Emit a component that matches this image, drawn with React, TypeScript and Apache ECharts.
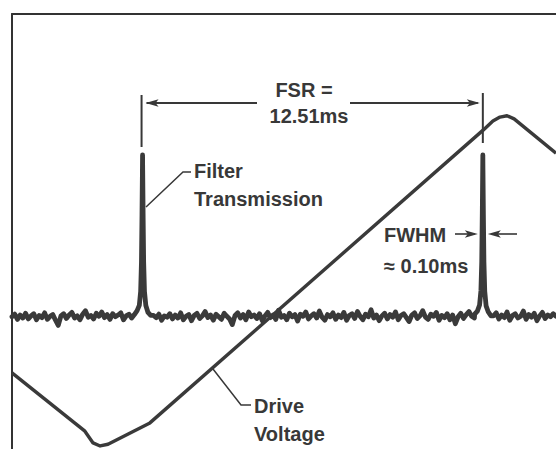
import React, { useEffect, useRef } from "react";
import * as echarts from "echarts";

// Drive voltage (time in ms, level in arbitrary units)
const driveTime = [0.0, 2.68, 2.98, 3.24, 3.53, 5.07, 17.32, 17.68, 17.94, 18.2, 18.46, 20.0];
const driveLevel = [1.75, 0.41, 0.14, 0.07, 0.11, 0.6, 7.33, 7.54, 7.63, 7.66, 7.59, 6.8];

// Filter transmission baseline, sampled every 0.1 ms from 0 to 20 ms
const transmissionLevel = [
  3.04, 3.10, 2.98, 3.08, 3.01, 3.12, 2.99, 3.06, 3.11, 2.97,
  3.07, 3.02, 3.13, 2.98, 3.05, 3.09, 2.96, 2.84, 3.06, 3.11,
  3.00, 3.08, 3.14, 3.01, 3.06, 2.97, 3.10, 3.18, 3.03, 3.07,
  2.99, 3.12, 3.05, 3.15, 3.02, 3.09, 2.98, 3.11, 3.04, 3.08,
  3.13, 2.97, 3.06, 3.10, 3.01, 3.14, 3.03, 3.08, 3.10, 3.09,
  3.05, 2.98, 3.07, 3.02, 3.10, 2.96, 3.06, 3.03, 3.11, 2.99,
  3.08, 3.01, 3.13, 2.97, 3.05, 3.09, 2.95, 3.07, 3.12, 3.00,
  3.06, 3.16, 3.02, 3.08, 2.96, 3.10, 3.04, 2.98, 3.12, 3.05,
  2.99, 2.86, 3.07, 3.13, 3.01, 3.09, 2.97, 3.15, 3.04, 3.08,
  3.00, 3.11, 2.95, 3.06, 3.14, 3.02, 3.08, 2.98, 3.19, 3.03,
  3.07, 2.97, 3.12, 3.04, 3.09, 2.94, 3.10, 3.05, 3.15, 2.99,
  3.06, 3.11, 3.01, 3.17, 3.03, 2.96, 3.09, 3.04, 3.13, 2.98,
  3.08, 3.02, 3.14, 2.96, 3.07, 3.11, 3.00, 3.16, 3.05, 2.97,
  3.10, 3.04, 3.20, 3.01, 3.08, 2.95, 3.06, 3.12, 2.99, 3.09,
  3.03, 3.15, 2.97, 3.07, 3.11, 3.02, 2.93, 3.08, 3.13, 3.00,
  3.06, 3.18, 3.03, 2.98, 3.10, 3.05, 3.14, 2.96, 3.07, 3.02,
  3.11, 2.97, 3.08, 2.88, 3.04, 3.12, 3.00, 3.09, 3.16, 3.05,
  3.01, 3.10, 3.04, 3.07, 3.10, 3.09, 2.97, 3.06, 3.13, 2.99,
  3.08, 3.02, 3.15, 2.96, 3.07, 3.11, 3.01, 3.05, 3.17, 2.98,
  3.09, 3.03, 3.12, 2.95, 3.06, 3.14, 3.00, 3.08, 3.04, 3.11,
  3.05,
];

// Transmission peaks (FSR = 12.51 ms apart, FWHM ≈ 0.10 ms)
const peakCenters = [4.8, 17.31];
const peak1Time = [4.5, 4.6, 4.68, 4.73, 4.76, 4.78, 4.795, 4.8, 4.805, 4.82, 4.84, 4.87, 4.92, 5.0, 5.1];
const peak1Level = [3.09, 3.18, 3.3, 3.62, 4.3, 5.4, 6.4, 6.76, 6.4, 5.4, 4.3, 3.62, 3.3, 3.14, 3.07];
const peak2Time = [17.01, 17.11, 17.19, 17.24, 17.27, 17.29, 17.305, 17.31, 17.315, 17.33, 17.35, 17.38, 17.43, 17.51, 17.61];
const peak2Level = [3.1, 3.17, 3.31, 3.64, 4.3, 5.4, 6.4, 6.76, 6.4, 5.4, 4.3, 3.63, 3.29, 3.15, 3.06];

const INK = "#3a3a3a";
const TEXT = "#383838";
const FONT = "Liberation Sans";

export default function App() {
  const ref = useRef<HTMLDivElement>(null);

  useEffect(() => {
    if (!ref.current) return;
    const chart = echarts.init(ref.current, undefined, { renderer: "svg" });

    const filterData: number[][] = [];
    transmissionLevel.forEach((v, i) => {
      const t = i / 10;
      if (peakCenters.some((c) => Math.abs(t - c) <= 0.3 + 1e-6)) return;
      filterData.push([t, v]);
    });
    peak1Time.forEach((t, i) => filterData.push([t, peak1Level[i]]));
    peak2Time.forEach((t, i) => filterData.push([t, peak2Level[i]]));
    filterData.sort((a, b) => a[0] - b[0]);

    const driveData = driveTime.map((t, i) => [t, driveLevel[i]]);

    chart.setOption({
      animation: false,
      backgroundColor: "#ffffff",
      grid: { left: 12, top: 14, right: 0, bottom: 0, containLabel: false },
      xAxis: {
        type: "value",
        min: 0,
        max: 20,
        position: "top",
        axisLine: { show: true, onZero: false, lineStyle: { color: "#333", width: 2 } },
        axisTick: { show: false },
        axisLabel: { show: false },
        splitLine: { show: false },
      },
      yAxis: {
        type: "value",
        min: 0,
        max: 10,
        axisLine: { show: true, onZero: false, lineStyle: { color: "#333", width: 2 } },
        axisTick: { show: false },
        axisLabel: { show: false },
        splitLine: { show: false },
      },
      series: [
        {
          type: "line",
          name: "Filter Transmission",
          data: filterData,
          showSymbol: false,
          symbol: "none",
          lineStyle: { color: INK, width: 4.8, join: "round", cap: "round" },
        },
        {
          type: "line",
          name: "Drive Voltage",
          data: driveData,
          showSymbol: false,
          symbol: "none",
          lineStyle: { color: INK, width: 3.4, join: "round" },
        },
      ],
    });

    const px = (t: number) => chart.convertToPixel({ gridIndex: 0 }, [t, 0])[0];
    const x1 = px(peakCenters[0]);
    const x2 = px(peakCenters[1]);

    const txt = (text: string, x: number, y: number, align = "left") => ({
      type: "text",
      x,
      y,
      style: {
        text,
        fill: TEXT,
        fontSize: 20,
        fontWeight: "bold",
        fontFamily: FONT,
        align,
        verticalAlign: "middle",
      },
    });
    const seg = (xa: number, ya: number, xb: number, yb: number, w = 2) => ({
      type: "line",
      shape: { x1: xa, y1: ya, x2: xb, y2: yb },
      style: { stroke: TEXT, lineWidth: w },
    });
    const head = (tip: number, y: number, dir: number) => ({
      type: "polygon",
      shape: {
        points: [
          [tip, y],
          [tip - dir * 13, y - 3.8],
          [tip - dir * 10, y],
          [tip - dir * 13, y + 3.8],
        ],
      },
      style: { fill: TEXT },
    });

    chart.setOption({
      graphic: [
        // FSR markers
        seg(x1 - 1, 95, x1 - 1, 147, 2),
        seg(x2, 93, x2, 143, 2),
        seg(x1 + 4, 103, 257, 103, 2),
        seg(350, 103, x2 - 5, 103, 2),
        head(x1 + 3, 103, -1),
        head(x2 - 3, 103, 1),
        txt("FSR =", 304, 90, "center"),
        txt("12.51ms", 309, 116, "center"),
        // FWHM markers
        seg(455, 234, x2 - 8, 234, 1.6),
        head(x2 - 5, 234, 1),
        seg(x2 + 10, 234, 517, 234, 1.6),
        head(x2 + 5, 234, -1),
        txt("FWHM", 384, 235),
        txt("≈ 0.10ms", 384, 266),
        // Filter transmission leader
        {
          type: "polyline",
          shape: { points: [[146, 207], [183, 172], [191, 172]] },
          style: { stroke: TEXT, lineWidth: 1.5, fill: "none" },
        },
        txt("Filter", 194, 171),
        txt("Transmission", 194, 199),
        // Drive voltage leader
        {
          type: "polyline",
          shape: { points: [[213, 369], [241, 405], [251, 405]] },
          style: { stroke: TEXT, lineWidth: 1.5, fill: "none" },
        },
        txt("Drive", 254, 406),
        txt("Voltage", 254, 434),
      ],
    });

    return () => chart.dispose();
  }, []);

  return (
    <div
      ref={ref}
      style={{ position: "absolute", left: 0, top: 0, width: 556, height: 449, background: "#fff" }}
    />
  );
}
